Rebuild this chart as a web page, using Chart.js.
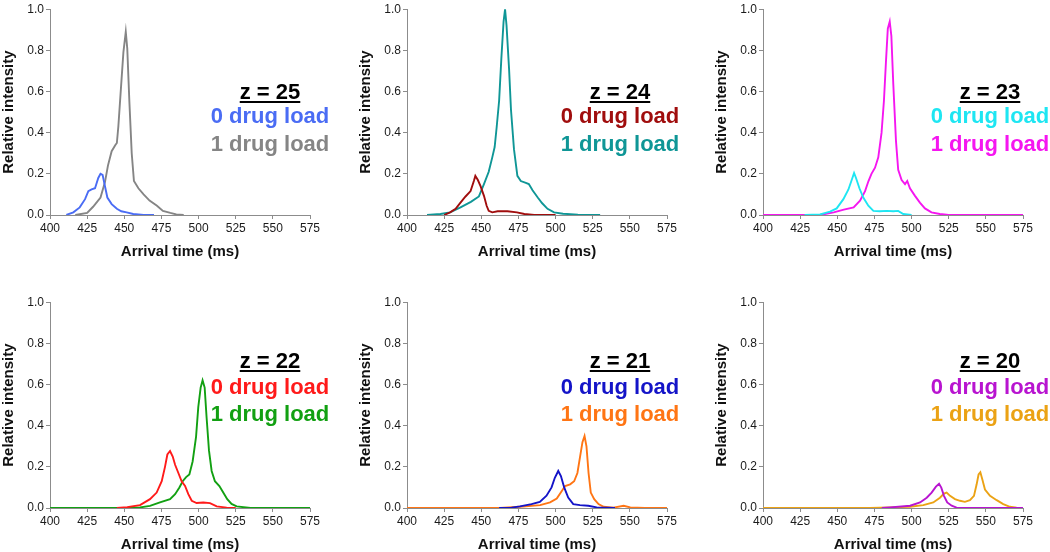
<!DOCTYPE html>
<html>
<head>
<meta charset="utf-8">
<script src="https://cdn.jsdelivr.net/npm/chart.js@4.4.1/dist/chart.umd.min.js"></script>
<style>
  body { margin: 0; background: #fff; width: 1050px; height: 552px; position: relative; overflow: hidden;
         font-family: "Liberation Sans", Arial, sans-serif; }
  canvas { position: absolute; }
  .lbl { position: absolute; font-weight: bold; font-size: 22px; line-height: 26px; white-space: nowrap;
         transform: translateX(-50%); }
  .z { color: #000; text-decoration: underline; text-decoration-thickness: 2px; text-underline-offset: 2px; }
</style>
</head>
<body>
<script>
// charge states, one panel each
const chargeStates = [25, 24, 23, 22, 21, 20];
const loadLabels = ['0 drug load', '1 drug load'];

// arrival time (ms), relative intensity
const z25_0 = [[411,0],[415.7,0.013],[420,0.037],[423.6,0.077],[425.8,0.116],[428,0.124],[430.3,0.13],[432.5,0.18],[434,0.2],[435.4,0.195],[437,0.14],[438.6,0.085],[441.5,0.053],[445,0.03],[448,0.018],[451.6,0.013],[456,0.005],[463,0],[470,0]];
const z25_1 = [[417,0],[425,0.01],[429,0.04],[434,0.085],[437,0.16],[439,0.24],[441.5,0.31],[444,0.34],[445,0.35],[446,0.43],[447.5,0.59],[449.4,0.79],[451,0.89],[452,0.81],[453.4,0.555],[455,0.3],[456.5,0.165],[459.5,0.13],[463,0.1],[467,0.07],[472,0.045],[476,0.02],[481,0.01],[485,0.003],[490,0]];
const z24_0 = [[425,0],[429,0.013],[432.7,0.03],[436,0.06],[439.4,0.09],[442.8,0.116],[445,0.165],[446,0.19],[447.7,0.17],[449.5,0.14],[451.8,0.093],[453.6,0.045],[455,0.02],[457.4,0.013],[461,0.018],[467.6,0.018],[474,0.013],[479,0.005],[485.6,0],[500,0]];
const z24_1 = [[413.5,0],[422.5,0.005],[429,0.013],[436,0.037],[443,0.064],[448.4,0.09],[451.8,0.15],[455,0.21],[457.4,0.28],[459,0.33],[460.4,0.43],[462,0.555],[463.5,0.76],[465,0.94],[466,1.0],[467,0.92],[468.7,0.71],[470,0.51],[472,0.32],[474.3,0.19],[476.6,0.165],[480,0.156],[482,0.15],[484.5,0.12],[488,0.085],[491,0.057],[494.6,0.03],[499,0.013],[505,0.006],[515,0.002],[530,0]];
const z23_0 = [[428,0],[438.4,0.003],[445.1,0.016],[449.6,0.032],[454.1,0.077],[457.5,0.124],[459.7,0.17],[461.3,0.204],[462.6,0.18],[464.9,0.13],[467.5,0.085],[470.9,0.045],[474.3,0.02],[478.7,0.018],[483.2,0.02],[487.7,0.018],[491,0.02],[494.4,0.005],[500,0]];
const z23_1 = [[400,0],[438.4,0],[447.6,0.013],[454.4,0.026],[461,0.037],[465.3,0.07],[468.7,0.116],[471,0.165],[473,0.2],[475.4,0.23],[477.6,0.28],[479.8,0.4],[481.4,0.555],[482.8,0.75],[484,0.905],[485.3,0.94],[486.4,0.87],[487.7,0.635],[489.5,0.36],[491,0.22],[493.3,0.17],[495.6,0.15],[497.1,0.165],[498.9,0.13],[502.3,0.093],[505.6,0.06],[509,0.032],[513.4,0.013],[519,0.005],[525,0],[575,0]];
const z22_0 = [[445,0],[452,0.004],[460.6,0.014],[467.3,0.043],[471.8,0.075],[475.2,0.13],[477.4,0.2],[479,0.26],[480.8,0.277],[482.6,0.25],[484.2,0.21],[486.4,0.17],[488.6,0.13],[490.9,0.107],[493.1,0.067],[495.4,0.035],[498.7,0.024],[503.2,0.027],[507.7,0.024],[512.2,0.008],[518.9,0.002],[525,0]];
const z22_1 = [[400,0],[455,0],[460.6,0.003],[467.3,0.01],[474,0.027],[480.8,0.043],[484.2,0.067],[487.1,0.1],[489.3,0.13],[491.6,0.15],[493.8,0.163],[496,0.226],[498.3,0.346],[499.8,0.49],[501.4,0.585],[502.7,0.62],[504.1,0.585],[505.4,0.44],[507,0.28],[508.8,0.18],[511,0.13],[514,0.107],[516.6,0.075],[519.3,0.043],[522.2,0.02],[525.6,0.008],[535,0],[575,0]];
const z21_0 = [[462,0],[470.4,0.002],[476,0.008],[483.8,0.019],[489.4,0.03],[493.9,0.06],[497.3,0.1],[499.5,0.147],[501.8,0.18],[503.6,0.155],[505.8,0.1],[508.5,0.051],[511.9,0.019],[516.4,0.014],[522,0.011],[527.7,0.003],[540,0]];
const z21_1 = [[400,0],[462.6,0],[476,0.006],[489.6,0.014],[496.3,0.027],[500.8,0.046],[504.2,0.083],[506.4,0.107],[509.8,0.115],[512.5,0.13],[514.7,0.17],[516.5,0.25],[518.1,0.32],[519.5,0.35],[520.8,0.3],[522.2,0.17],[523.7,0.075],[526,0.043],[528.9,0.019],[532.3,0.006],[539,0.002],[545.8,0.011],[550.3,0.003],[560,0],[575,0]];
const z20_0 = [[480,0],[485.5,0.003],[499,0.011],[505.7,0.027],[510.2,0.05],[513.5,0.075],[516.4,0.104],[518.5,0.118],[520,0.099],[521.8,0.059],[524,0.027],[527,0.011],[530.3,0.002],[540,0],[575,0]];
const z20_1 = [[400,0],[472,0],[485.5,0.003],[499,0.006],[507.9,0.014],[514.6,0.027],[519.1,0.05],[521.8,0.07],[523.6,0.075],[525.9,0.059],[529.2,0.043],[532.6,0.035],[535.9,0.03],[539.3,0.038],[542,0.059],[543.8,0.115],[545.1,0.163],[546.3,0.174],[547.6,0.14],[549.4,0.09],[552.8,0.059],[557.3,0.038],[561.7,0.019],[566.2,0.006],[570.7,0.002],[575,0]];

const traces = [[z25_0, z25_1], [z24_0, z24_1], [z23_0, z23_1], [z22_0, z22_1], [z21_0, z21_1], [z20_0, z20_1]];

const colors = [
  ['#4a6cf4', '#858585'],
  ['#a00d0d', '#0f9696'],
  ['#1ee6f2', '#f516f0'],
  ['#ff1a1a', '#12a012'],
  ['#1414c8', '#ff7514'],
  ['#b814d0', '#eba214']
];

// panel placement
const colLeft = [50, 407, 763];
const rowTop = [7, 300];
const labelX = [270, 620, 990];
const labelBase = [[99.5, 124, 152], [369, 395, 422]];

const FONT = '"Liberation Sans", Arial, sans-serif';
const axisGray = '#8c8c8c';

chargeStates.forEach((z, i) => {
  const col = i % 3, row = Math.floor(i / 3);
  const cv = document.createElement('canvas');
  cv.width = 324;
  cv.height = 261;
  cv.style.left = (colLeft[col] - 50) + 'px';
  cv.style.top = (rowTop[row] - 7) + 'px';
  document.body.appendChild(cv);

  new Chart(cv, {
    type: 'line',
    data: {
      datasets: traces[i].map((d, k) => ({
        label: loadLabels[k],
        data: d,
        borderColor: colors[i][k],
        borderWidth: 1.9,
        pointRadius: 0,
        tension: 0,
        fill: false
      }))
    },
    options: {
      responsive: false,
      animation: false,
      layout: { padding: { top: 7, right: 14, left: 0, bottom: 0 } },
      plugins: { legend: { display: false }, tooltip: { enabled: false } },
      scales: {
        x: {
          type: 'linear',
          min: 400,
          max: 575,
          ticks: { stepSize: 25, color: '#1a1a1a', font: { family: FONT, size: 12 }, padding: 2, maxRotation: 0 },
          grid: { drawOnChartArea: false, drawTicks: true, tickLength: 4, color: axisGray },
          border: { display: true, color: axisGray, width: 1 },
          title: { display: true, text: 'Arrival time (ms)', color: '#111', font: { family: FONT, size: 15, weight: 'bold' }, padding: 0 },
          afterFit: s => { s.height = 46; }
        },
        y: {
          min: 0,
          max: 1,
          ticks: { stepSize: 0.2, color: '#1a1a1a', font: { family: FONT, size: 12 }, padding: 2,
                   callback: v => v.toFixed(1) },
          grid: { drawOnChartArea: false, drawTicks: true, tickLength: 4, color: axisGray },
          border: { display: true, color: axisGray, width: 1 },
          title: { display: true, text: 'Relative intensity', color: '#111', font: { family: FONT, size: 15, weight: 'bold' }, padding: 0 },
          afterFit: s => { s.width = 50; }
        }
      }
    }
  });

  // charge-state label and the two series names
  const lines = ['z = ' + z, loadLabels[0], loadLabels[1]];
  lines.forEach((t, k) => {
    const el = document.createElement('div');
    el.className = 'lbl' + (k === 0 ? ' z' : '');
    el.textContent = t;
    if (k > 0) el.style.color = colors[i][k - 1];
    el.style.left = labelX[col] + 'px';
    el.style.top = (labelBase[row][k] - 20.6) + 'px';
    document.body.appendChild(el);
  });
});
</script>
</body>
</html>
